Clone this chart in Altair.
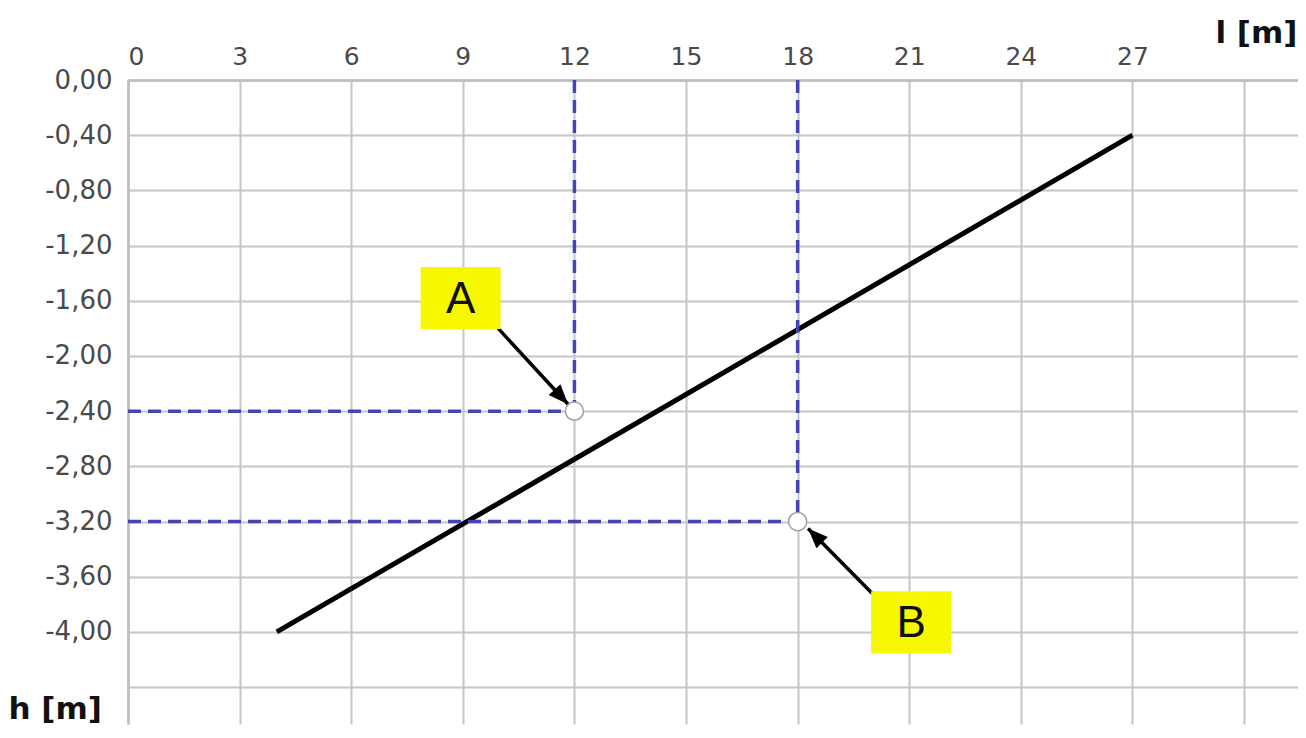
import math
import altair as alt
import pandas as pd

# ---- data ----
l_ticks = [0, 3, 6, 9, 12, 15, 18, 21, 24, 27, 30]
h_ticks = [0.0, -0.4, -0.8, -1.2, -1.6, -2.0, -2.4, -2.8, -3.2, -3.6, -4.0, -4.4]

line_l = [4, 27]
line_h = [-4.0, -0.4]

point_names = ["A", "B"]
point_l = [12, 18]
point_h = [-2.4, -3.2]

label_l = [8.94, 21.05]
label_h = [-1.58, -3.93]

arrow_from_l = [9.95, 20.0]
arrow_from_h = [-1.80, -3.72]
arrow_to_l = [11.83, 18.28]
arrow_to_h = [-2.35, -3.25]

# ---- layout ----
W, H = 1170, 644
L_MAX = 31.45
H_MIN = -4.667
px_l = W / L_MAX
px_h = H / (0 - H_MIN)

FONT = "DejaVu Sans"

line_df = pd.DataFrame({"l": line_l, "h": line_h})
pts_df = pd.DataFrame({"name": point_names, "l": point_l, "h": point_h,
                       "zero": [0.0, 0.0]})
lab_df = pd.DataFrame({"name": point_names, "l": label_l, "h": label_h})

seg_rows = []
head_rows = []
for i, n in enumerate(point_names):
    seg_rows.append({"name": n, "l": arrow_from_l[i], "h": arrow_from_h[i], "o": 0})
    seg_rows.append({"name": n, "l": arrow_to_l[i], "h": arrow_to_h[i], "o": 1})
    dx = (arrow_to_l[i] - arrow_from_l[i]) * px_l
    dy = -(arrow_to_h[i] - arrow_from_h[i]) * px_h
    ang = math.degrees(math.atan2(dx, -dy)) % 360
    head_rows.append({"name": n, "l": arrow_to_l[i], "h": arrow_to_h[i], "ang": ang})
seg_df = pd.DataFrame(seg_rows)
head_df = pd.DataFrame(head_rows)

xscale = alt.Scale(domain=[0, L_MAX], nice=False, zero=False)
yscale = alt.Scale(domain=[H_MIN, 0], nice=False, zero=False)

x_axis = alt.Axis(
    orient="top", values=l_ticks, grid=True, ticks=False,
    labelExpr="datum.value >= 29 ? '' : datum.label",
    labelFont=FONT, labelFontSize=25, labelColor="#4a4a4a", labelPadding=11,
    title="l [m]", titleFont=FONT, titleFontSize=31, titleFontWeight="bold",
    titleColor="#111111", titleAnchor="end", titleAlign="right",
    titleX=1169, titleY=-38, titleBaseline="alphabetic",
)
y_axis = alt.Axis(
    orient="left", values=h_ticks, grid=True, ticks=False,
    labelExpr="datum.value < -4.2 ? '' : (datum.value < 0 ? '-' : '') + replace(format(abs(datum.value), '.2f'), '.', ',')",
    labelFont=FONT, labelFontSize=26, labelColor="#4a4a4a", labelPadding=16,
    title="h [m]", titleFont=FONT, titleFontSize=31, titleFontWeight="bold",
    titleColor="#111111", titleAngle=0, titleAlign="left",
    titleX=-120, titleY=638, titleBaseline="alphabetic",
)


def X(field):
    return alt.X(field, type="quantitative", scale=xscale, axis=x_axis)


def Y(field):
    return alt.Y(field, type="quantitative", scale=yscale, axis=y_axis)


main_line = alt.Chart(line_df).mark_line(color="black", strokeWidth=5).encode(
    x=X("l"), y=Y("h"),
)

dash_col = "#4444b2"
vrules = alt.Chart(pts_df).mark_rule(color=dash_col, strokeWidth=3.5, strokeDash=[13, 7]).encode(
    x=X("l"), y=Y("zero"), y2="h:Q",
)
hrules = alt.Chart(pts_df).mark_rule(color=dash_col, strokeWidth=3.5, strokeDash=[13, 7]).encode(
    y=Y("h"), x=X("zero"), x2="l:Q",
)

shafts = alt.Chart(seg_df).mark_line(color="black", strokeWidth=3.5).encode(
    x=X("l"), y=Y("h"), detail="name:N", order="o:Q",
)
heads = alt.Chart(head_df).mark_point(
    shape="M0,0L-0.4,1L0.4,1Z", filled=True, color="black", opacity=1, size=1600,
).encode(
    x=X("l"), y=Y("h"), angle=alt.Angle("ang:Q", scale=None),
)

circles = alt.Chart(pts_df).mark_point(
    shape="circle", filled=True, fill="white", stroke="#a0a0a0", strokeWidth=1.5,
    opacity=1, size=330,
).encode(
    x=X("l"), y=Y("h"),
)

boxes = alt.Chart(lab_df).mark_point(
    shape="M-1,-0.775H1V0.775H-1Z", filled=True, color="#f7f700", opacity=1, size=6400,
).encode(
    x=X("l"), y=Y("h"),
)
texts = alt.Chart(lab_df).mark_text(
    font="Liberation Sans", fontSize=44, color="#111111", align="center",
    baseline="middle", dy=2,
).encode(
    x=X("l"), y=Y("h"), text="name:N",
)

chart = alt.layer(
    main_line, vrules, hrules, shafts, heads, circles, boxes, texts
).properties(
    width=W, height=H,
    autosize=alt.AutoSizeParams(type="none"),
    padding={"left": 120, "top": 72, "right": 0, "bottom": 4},
    background="white",
).configure_view(stroke=None).configure_axis(
    gridColor="#c6c6c6", gridWidth=2, gridOpacity=1,
    domainColor="#bdbdbd", domainWidth=2.5,
)

chart.save("out.html", embed_options={"renderer": "svg", "actions": False})
